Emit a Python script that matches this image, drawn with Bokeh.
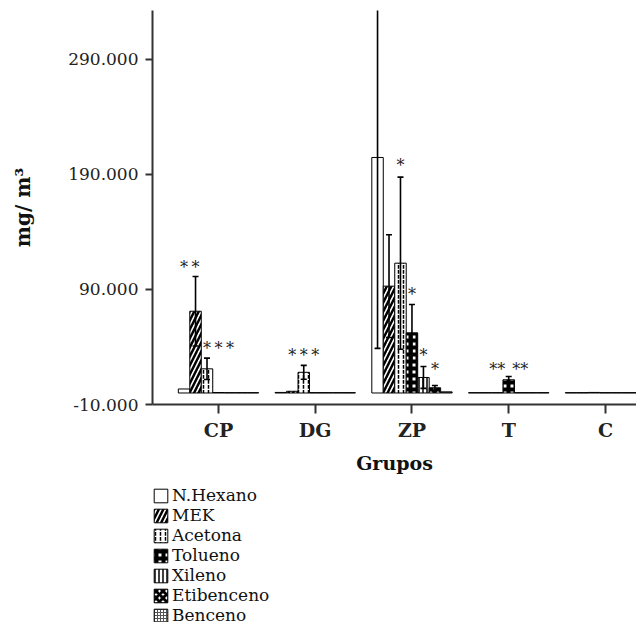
from bokeh.plotting import figure
from bokeh.layouts import column
from bokeh.models import Range1d, FixedTicker, Legend, LegendItem, ColumnDataSource
from bokeh.core.properties import value
from bokeh.embed import file_html
from bokeh.resources import INLINE

# ---------------- data ----------------
groups = ["CP", "DG", "ZP", "T", "C"]
series = ["N.Hexano", "MEK", "Acetona", "Tolueno", "Xileno", "Etibenceno", "Benceno"]

n_hexano_mean = [3.5, 0.5, 204.8, 0.3, 0.3]
mek_mean = [71.1, 1.5, 92.9, 0.3, 0.3]
acetona_mean = [21.0, 18.0, 112.9, 0.3, 0.5]
tolueno_mean = [0.4, 0.3, 52.3, 11.5, 0.3]
xileno_mean = [0.3, 0.3, 13.5, 0.3, 0.3]
etibenceno_mean = [0.3, 0.3, 4.5, 0.3, 0.3]
benceno_mean = [0.3, 0.3, 1.0, 0.3, 0.3]

n_hexano_sd = [0.0, 0.0, 166.0, 0.0, 0.0]
mek_sd = [30.2, 0.0, 44.7, 0.0, 0.0]
acetona_sd = [9.3, 6.0, 74.8, 0.0, 0.0]
tolueno_sd = [0.0, 0.0, 24.7, 2.8, 0.0]
xileno_sd = [0.0, 0.0, 9.5, 0.0, 0.0]
etibenceno_sd = [0.0, 0.0, 2.0, 0.0, 0.0]
benceno_sd = [0.0, 0.0, 0.0, 0.0, 0.0]

y_ticks = [-10, 90, 190, 290]
y_tick_labels = ["-10.000", "90.000", "190.000", "290.000"]

# significance marks: group, series, text, y
star_group = ["CP", "CP", "CP", "CP", "CP", "DG", "DG", "DG", "ZP", "ZP", "ZP", "ZP", "T", "T"]
star_series = ["N.Hexano", "MEK", "Acetona", "Tolueno", "Xileno",
               "MEK", "Acetona", "Tolueno",
               "Acetona", "Tolueno", "Xileno", "Etibenceno",
               "Acetona", "Xileno"]
star_text = ["*", "*", "*", "*", "*", "*", "*", "*", "*", "*", "*", "*", "**", "**"]
star_y = [109, 109, 39, 39, 39, 32.6, 32.6, 32.6, 197.8, 85.6, 32.6, 20.4, 20.4, 20.4]

means = [n_hexano_mean, mek_mean, acetona_mean, tolueno_mean, xileno_mean, etibenceno_mean, benceno_mean]
sds = [n_hexano_sd, mek_sd, acetona_sd, tolueno_sd, xileno_sd, etibenceno_sd, benceno_sd]

# ---------------- styles ----------------
FONT = "DejaVu Serif"
BAR_W = 0.1186
styles = {
    "N.Hexano": dict(fill_color="white"),
    "MEK": dict(fill_color="white", hatch_pattern="/", hatch_color="black", hatch_weight=2.5, hatch_scale=9),
    "Acetona": dict(fill_color="white", hatch_pattern=":", hatch_color="black", hatch_weight=1.5, hatch_scale=5),
    "Tolueno": dict(fill_color="white", hatch_pattern="+", hatch_color="black", hatch_weight=4, hatch_scale=7),
    "Xileno": dict(fill_color="white", hatch_pattern="|", hatch_color="black", hatch_weight=1.5, hatch_scale=4),
    "Etibenceno": dict(fill_color="white", hatch_pattern="x", hatch_color="black", hatch_weight=3, hatch_scale=7),
    "Benceno": dict(fill_color="white", hatch_pattern="+", hatch_color="#555555", hatch_weight=1, hatch_scale=3),
}

p = figure(frame_width=484, frame_height=394,
           x_range=Range1d(0.318, 5.321), y_range=Range1d(-10, 332.6),
           output_backend="svg", toolbar_location=None,
           min_border_left=152, min_border_right=0, min_border_top=10, min_border_bottom=81)
p.outline_line_color = None
p.grid.visible = False
p.background_fill_color = "white"

gx = [i + 1 for i in range(len(groups))]
for k, name in enumerate(series):
    xs = [g + (k - 3) * BAR_W for g in gx]
    src = ColumnDataSource(dict(x=xs, top=means[k]))
    p.vbar(x="x", top="top", bottom=0, width=BAR_W, source=src,
           line_color="black", line_width=1, **styles[name])

for k, name in enumerate(series):
    xs, lo, hi = [], [], []
    for i, g in enumerate(gx):
        if sds[k][i] > 0:
            xs.append(g + (k - 3) * BAR_W)
            lo.append(means[k][i] - sds[k][i])
            hi.append(means[k][i] + sds[k][i])
    if xs:
        src = ColumnDataSource(dict(x=xs, lo=lo, hi=hi))
        p.segment(x0="x", y0="lo", x1="x", y1="hi", source=src, line_color="black", line_width=1.6)
        p.scatter(x="x", y="hi", marker="dash", size=6, line_width=1.6, line_color="black", source=src)
        p.scatter(x="x", y="lo", marker="dash", size=6, line_width=1.6, line_color="black", source=src)

sx = [groups.index(g) + 1 + (series.index(s) - 3) * BAR_W for g, s in zip(star_group, star_series)]
p.text(x=sx, y=star_y, text=star_text, text_font=value(FONT), text_font_size="16px",
       text_align="center", text_baseline="middle", text_color="#222222")

# axes
p.yaxis.ticker = FixedTicker(ticks=y_ticks)
p.yaxis.major_label_overrides = {t: l for t, l in zip(y_ticks, y_tick_labels)}
p.xaxis.ticker = FixedTicker(ticks=gx)
p.xaxis.major_label_overrides = {g: n for g, n in zip(gx, groups)}
p.yaxis.minor_tick_line_color = None
p.xaxis.minor_tick_line_color = None
for ax in (p.xaxis, p.yaxis):
    ax.axis_line_color = "#333333"
    ax.axis_line_width = 2
    ax.major_tick_line_color = "#333333"
    ax.major_tick_line_width = 2
    ax.major_tick_in = 0
    ax.major_label_text_font = FONT
    ax.major_label_text_color = "#222222"
    ax.axis_label_text_font = FONT
    ax.axis_label_text_font_style = "bold"
    ax.axis_label_text_color = "#111111"

p.yaxis.major_tick_out = 7
p.yaxis.major_label_standoff = 7
p.yaxis.major_label_text_font_size = "17px"
p.yaxis.axis_label = "mg/ m³"
p.yaxis.axis_label_text_font_size = "20px"
p.yaxis.axis_label_standoff = 30

p.xaxis.major_tick_out = 9
p.xaxis.major_label_standoff = 5
p.xaxis.major_label_text_font_size = "19px"
p.xaxis.major_label_text_font_style = "bold"
p.xaxis.axis_label = "Grupos"
p.xaxis.axis_label_text_font_size = "19px"
p.xaxis.axis_label_standoff = 8

# ---------------- legend (separate strip below the chart) ----------------
lf = figure(frame_width=484, frame_height=137, x_range=Range1d(0, 1), y_range=Range1d(0, 1),
            output_backend="svg", toolbar_location=None,
            x_axis_location=None, y_axis_location=None,
            min_border_left=152, min_border_right=0, min_border_top=0, min_border_bottom=0)
lf.grid.visible = False
lf.outline_line_color = None
lf.background_fill_color = "white"
lf.border_fill_color = "white"

legend_items = []
for name in series:
    r = lf.vbar(x=[-5], top=[-5], bottom=-5, width=0.1, line_color="black", line_width=1,
                visible=False, **styles[name])
    legend_items.append(LegendItem(label=name, renderers=[r]))

legend = Legend(items=legend_items, location="top_left", orientation="vertical",
                margin=0, padding=0, spacing=0,
                glyph_width=17, glyph_height=17, label_height=20, label_standoff=3,
                label_text_font=FONT, label_text_font_size="17px", label_text_color="#111111",
                background_fill_alpha=0, border_line_alpha=0)
lf.add_layout(legend, "center")

layout = column(p, lf, spacing=0)
open("out.html", "w").write(file_html(layout, INLINE))
